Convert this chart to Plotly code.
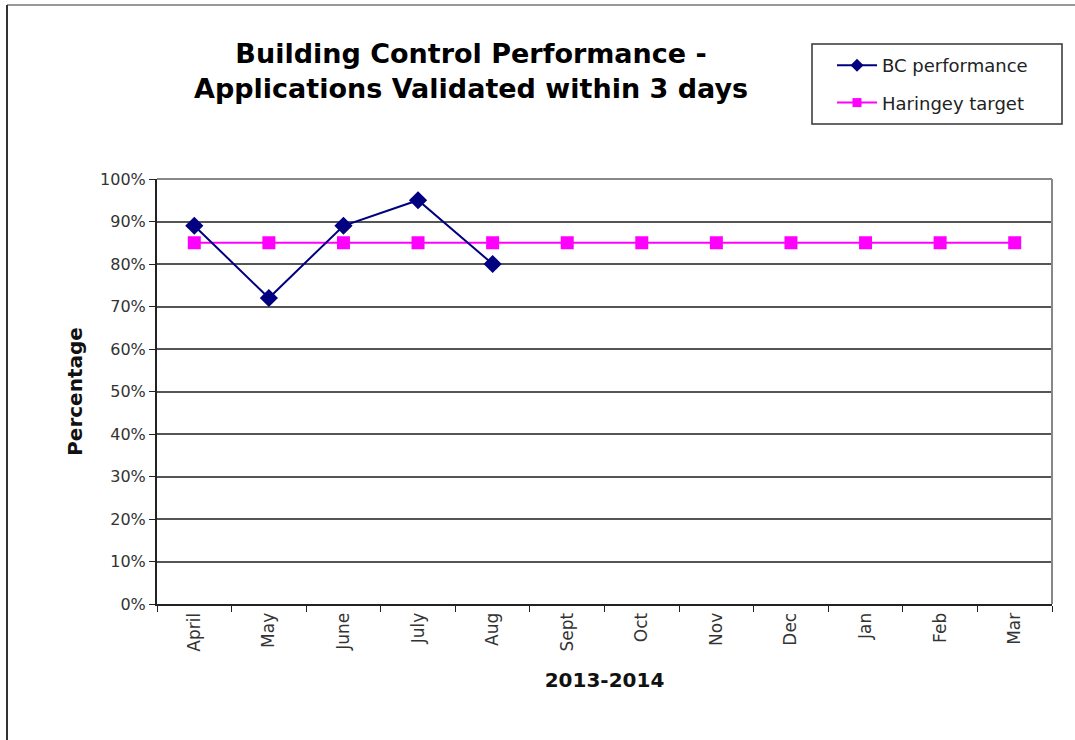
import plotly.graph_objects as go

months = ["April", "May", "June", "July", "Aug", "Sept", "Oct", "Nov", "Dec", "Jan", "Feb", "Mar"]
bc_performance = [89, 72, 89, 95, 80]
haringey_target = [85] * 12

L, R, T, B = 157, 1052, 179, 604
W, H = 1075, 740

def px(x):
    return (x - L) / (R - L)

def py(y):
    return (B - y) / (B - T)

FONT = "DejaVu Sans, Liberation Sans, Arial, sans-serif"
NAVY, MAGENTA = "#000080", "#FF00FF"

fig = go.Figure()
fig.add_trace(go.Scatter(
    x=months, y=haringey_target, name="Haringey target", mode="lines+markers",
    showlegend=False,
    line=dict(color=MAGENTA, width=2),
    marker=dict(symbol="square", size=13, color=MAGENTA),
))
fig.add_trace(go.Scatter(
    x=months[:len(bc_performance)], y=bc_performance, name="BC performance", mode="lines+markers",
    showlegend=False,
    line=dict(color=NAVY, width=2),
    marker=dict(symbol="diamond", size=14, color=NAVY),
))
# legend-only entries with smaller markers
fig.add_trace(go.Scatter(
    x=[None], y=[None], name="BC performance", mode="lines+markers",
    legendgroup="a", legendrank=1,
    line=dict(color=NAVY, width=2),
    marker=dict(symbol="diamond", size=10, color=NAVY),
))
fig.add_trace(go.Scatter(
    x=[None], y=[None], name="Haringey target", mode="lines+markers",
    legendgroup="b", legendrank=2,
    line=dict(color=MAGENTA, width=2),
    marker=dict(symbol="square", size=9, color=MAGENTA),
))

fig.update_layout(
    width=W, height=H,
    margin=dict(l=L, r=W - R, t=T, b=H - B),
    paper_bgcolor="white", plot_bgcolor="white",
    font=dict(family=FONT, color="#222"),
    showlegend=True,
    legend=dict(
        x=px(832), y=py(47), xanchor="left", yanchor="top",
        borderwidth=0, bgcolor="rgba(0,0,0,0)",
        font=dict(size=18, color="#222"),
        tracegroupgap=11, itemwidth=40,
    ),
    xaxis=dict(
        type="category", categoryorder="array", categoryarray=months,
        range=[-0.5, 11.5], showgrid=False,
        tickangle=-90, tickfont=dict(size=17, color="#333"),
        ticks="outside", ticklen=6, tickcolor="#222", tickson="boundaries",
        showline=True, linecolor="#222", linewidth=2, mirror=False,
        title=dict(text="<b>2013-2014</b>", font=dict(size=20, color="#111"), standoff=22),
    ),
    yaxis=dict(
        range=[0, 100], dtick=10, ticksuffix="%",
        showgrid=True, gridcolor="#555", gridwidth=1.5,
        tickfont=dict(size=16, color="#333"),
        ticks="outside", ticklen=6, tickcolor="#222",
        showline=True, linecolor="#222", linewidth=2,
        zeroline=False,
        title=dict(text="<b>Percentage</b>", font=dict(size=20, color="#111"), standoff=12),
    ),
    annotations=[dict(
        text="<b>Building Control Performance -<br>Applications Validated within 3 days</b>",
        x=px(471), y=py(71), xref="paper", yref="paper",
        xanchor="center", yanchor="middle", showarrow=False,
        font=dict(size=27, color="#000"),
    )],
    shapes=[
        dict(type="line", xref="paper", yref="paper", x0=0, x1=1, y0=1, y1=1,
             line=dict(color="#888", width=2)),
        dict(type="line", xref="paper", yref="paper", x0=1, x1=1, y0=0, y1=1,
             line=dict(color="#888", width=2)),
        dict(type="rect", xref="paper", yref="paper", x0=px(812), x1=px(1062), y0=py(44), y1=py(124),
             line=dict(color="#333", width=1.5), fillcolor="rgba(0,0,0,0)"),
        dict(type="line", xref="paper", yref="paper", x0=px(7), x1=px(1075), y0=py(5), y1=py(5),
             line=dict(color="#999", width=2)),
        dict(type="line", xref="paper", yref="paper", x0=px(7), x1=px(7), y0=py(5), y1=py(740),
             line=dict(color="#333", width=2)),
    ],
)

fig.write_html("out.html", config={"displayModeBar": False},
               post_script="document.body.style.margin='0';")
